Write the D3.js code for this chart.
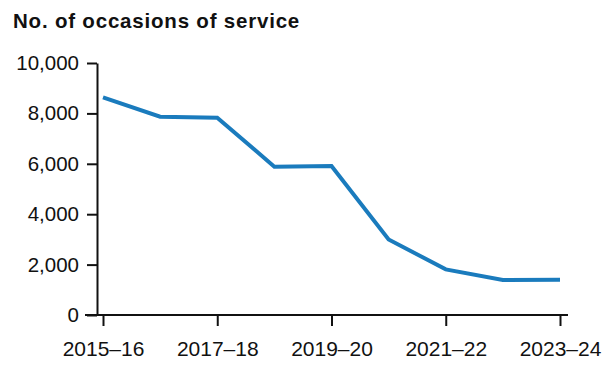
<!DOCTYPE html>
<html><head><meta charset="utf-8">
<script src="https://cdn.jsdelivr.net/npm/d3@7"></script>
<style>
body{margin:0;background:#fff;}
svg{display:block;font-family:"Liberation Sans",Arial,sans-serif;}
</style></head>
<body><svg id="c" width="605" height="365"></svg>
<script>
const years = ["2015–16","2016–17","2017–18","2018–19","2019–20","2020–21","2021–22","2022–23","2023–24"];
const occasions = [8640,7870,7830,5885,5915,3000,1810,1390,1395];
const yTicks = [0,2000,4000,6000,8000,10000];
const xTickLabels = ["2015–16","2017–18","2019–20","2021–22","2023–24"];
const title = "No. of occasions of service";

const svg = d3.select("#c");
const x = d3.scalePoint().domain(years).range([103,560]);
const y = d3.scaleLinear().domain([0,10000]).range([315,63]);
const fmt = d3.format(",");

svg.append("text").attr("x",13).attr("y",28).attr("font-weight","bold")
  .attr("font-size",20.5).attr("letter-spacing",0.8).attr("fill","#111").text(title);

// y axis
const ya = svg.append("g").attr("transform","translate(97,0)")
  .call(d3.axisLeft(y).tickValues(yTicks).tickFormat(fmt).tickSize(10).tickSizeOuter(0).tickPadding(8));
ya.selectAll("text").attr("font-size",20.5).attr("fill","#111").attr("font-family","'Liberation Sans',Arial,sans-serif");
ya.selectAll("line,path").attr("stroke","#111").attr("stroke-width",2);

// x axis
const xa = svg.append("g").attr("transform","translate(0,315)")
  .call(d3.axisBottom(x).tickValues(xTickLabels).tickSize(11).tickSizeOuter(0).tickPadding(15));
xa.select(".domain").remove();
xa.append("line").attr("x1",85).attr("x2",568).attr("stroke","#111").attr("stroke-width",2);
xa.selectAll("text").attr("font-size",21).attr("fill","#111").attr("font-family","'Liberation Sans',Arial,sans-serif");
xa.selectAll(".tick line").attr("stroke","#111").attr("stroke-width",2);

const line = d3.line().x((d,i)=>x(years[i])).y(d=>y(d));
svg.append("path").datum(occasions).attr("d",line)
  .attr("fill","none").attr("stroke","#1a7bbd").attr("stroke-width",4).attr("stroke-linejoin","miter");
</script></body></html>
